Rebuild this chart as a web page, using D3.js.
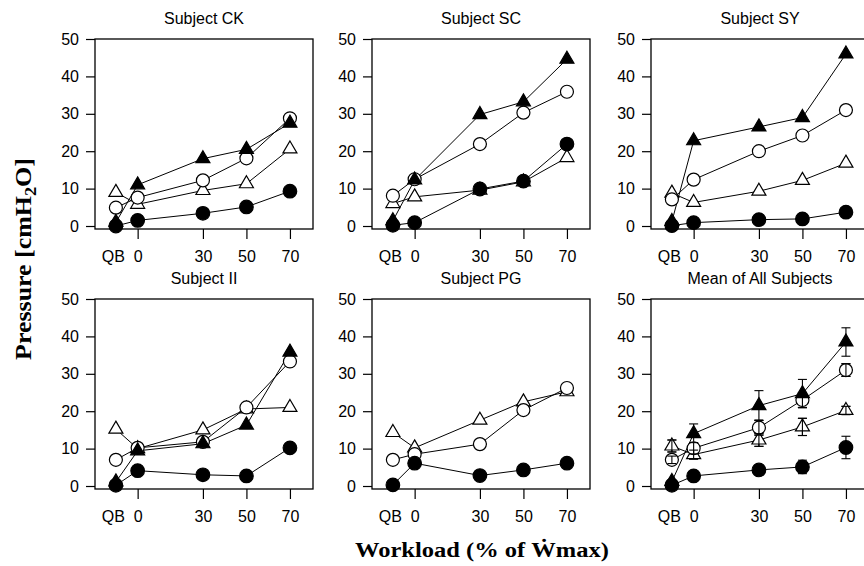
<!DOCTYPE html>
<html>
<head>
<meta charset="utf-8">
<script src="https://cdn.jsdelivr.net/npm/d3@7"></script>
<style>
  body { margin: 0; background: #fff; }
  svg text { fill: #000; }
</style>
</head>
<body>
<svg id="chart" width="864" height="566"></svg>
<script>
// workload categories (QB = quiet breathing, placed left of 0)
const workloadLabels = ["QB", "0", "30", "50", "70"];
const workloadX = [-10, 0, 30, 50, 70];
const yTicks = [0, 10, 20, 30, 40, 50];

const panelTitles = ["Subject CK", "Subject SC", "Subject SY", "Subject II", "Subject PG", "Mean of All Subjects"];

// Subject CK
const ckFilledTri  = [1.0, 11.0, 18.0, 20.5, 27.5];
const ckOpenCirc   = [4.9, 7.6, 12.2, 18.1, 28.8];
const ckOpenTri    = [9.0, 5.8, 9.5, 11.3, 20.6];
const ckFilledCirc = [0.0, 1.5, 3.4, 5.1, 9.3];

// Subject SC
const scFilledTri  = [1.4, 12.3, 29.8, 33.2, 44.6];
const scOpenCirc   = [8.1, 12.5, 21.9, 30.3, 35.9];
const scOpenTri    = [6.0, 7.8, 9.6, 11.8, 18.3];
const scFilledCirc = [0.2, 0.9, 9.9, 12.0, 21.9];

// Subject SY
const syFilledTri  = [1.2, 22.8, 26.5, 29.0, 46.0];
const syOpenCirc   = [7.1, 12.4, 20.0, 24.2, 31.0];
const syOpenTri    = [8.8, 6.3, 9.3, 12.2, 16.8];
const syFilledCirc = [0.1, 0.9, 1.7, 1.9, 3.7];

// Subject II
const iiFilledTri  = [1.1, 9.4, 11.3, 16.3, 35.8];
const iiOpenCirc   = [7.0, 10.2, 11.8, 21.0, 33.3];
const iiOpenTri    = [15.2, 10.0, 15.0, 20.6, 21.0];
const iiFilledCirc = [0.2, 4.1, 3.0, 2.7, 10.2];

// Subject PG (no filled-triangle series)
const pgOpenCirc   = [7.0, 8.5, 11.2, 20.3, 26.2];
const pgOpenTri    = [14.3, 10.2, 17.6, 22.5, 25.2];
const pgFilledCirc = [0.3, 6.1, 2.8, 4.3, 6.1];

// Mean of all subjects, with error bars
const meanFilledTri     = [1.2, 14.0, 21.5, 24.7, 38.5];
const meanFilledTriErr  = [0.4, 2.6, 4.0, 3.8, 3.8];
const meanOpenCirc      = [7.0, 10.1, 15.6, 23.0, 31.0];
const meanOpenCircErr   = [1.0, 1.5, 2.0, 2.0, 1.7];
const meanOpenTri       = [10.7, 8.4, 12.3, 15.8, 20.2];
const meanOpenTriErr    = [1.6, 1.2, 1.7, 2.3, 1.1];
const meanFilledCirc    = [0.2, 2.7, 4.3, 5.1, 10.3];
const meanFilledCircErr = [0.3, 0.5, 1.3, 1.8, 3.0];

const panelData = [
  [ckOpenTri, ckOpenCirc, ckFilledCirc, ckFilledTri],
  [scOpenTri, scOpenCirc, scFilledCirc, scFilledTri],
  [syOpenTri, syOpenCirc, syFilledCirc, syFilledTri],
  [iiOpenTri, iiOpenCirc, iiFilledCirc, iiFilledTri],
  [pgOpenTri, pgOpenCirc, pgFilledCirc, null],
  [meanOpenTri, meanOpenCirc, meanFilledCirc, meanFilledTri]
];
const meanErrors = [meanOpenTriErr, meanOpenCircErr, meanFilledCircErr, meanFilledTriErr];
const seriesKinds = ["openTri", "openCirc", "filledCirc", "filledTri"];

// layout
const panelW = 218, panelH = 190;
const colLeft = [95, 372, 651];
const rowTop = [39, 299];

const svg = d3.select("#chart");

const x = d3.scaleLinear().domain([-19.6, 80.6]).range([0, panelW]);
const y = d3.scaleLinear().domain([-0.8, 50]).range([panelH, 0]);

const line = d3.line()
  .x(d => x(d.x))
  .y(d => y(d.v));

function triPath(w, h) {
  return `M0,${-h * 2 / 3}L${w / 2},${h / 3}L${-w / 2},${h / 3}Z`;
}

function drawMarker(g, kind, px, py) {
  if (kind === "openCirc" || kind === "filledCirc") {
    g.append("circle")
      .attr("cx", px).attr("cy", py)
      .attr("r", kind === "filledCirc" ? 6.8 : 6.5)
      .attr("fill", kind === "filledCirc" ? "#000" : "#fff")
      .attr("stroke", "#000").attr("stroke-width", 1.2);
  } else {
    g.append("path")
      .attr("d", triPath(14, 12))
      .attr("transform", `translate(${px},${py})`)
      .attr("fill", kind === "filledTri" ? "#000" : "#fff")
      .attr("stroke", "#000").attr("stroke-width", 1.2)
      .attr("stroke-linejoin", "miter");
  }
}

panelData.forEach((series, i) => {
  const left = colLeft[i % 3], top = rowTop[Math.floor(i / 3)];
  const g = svg.append("g").attr("transform", `translate(${left},${top})`);

  // title
  g.append("text")
    .attr("x", panelW / 2).attr("y", -15)
    .attr("text-anchor", "middle")
    .style("font-family", "Liberation Sans, Arial, sans-serif")
    .style("font-size", "16px")
    .text(panelTitles[i]);

  // y axis
  const yAxis = g.append("g")
    .call(d3.axisLeft(y).tickValues(yTicks).tickSize(9).tickPadding(7).tickFormat(d3.format("d")));
  yAxis.select(".domain").remove();
  yAxis.selectAll("line").attr("stroke-width", 1.2);
  yAxis.selectAll("text")
    .style("font-family", "Liberation Sans, Arial, sans-serif")
    .style("font-size", "16px").attr("fill", "#000");

  // x axis
  const xAxis = g.append("g")
    .attr("transform", `translate(0,${panelH})`)
    .call(d3.axisBottom(x).tickValues(workloadX).tickSize(10).tickPadding(12)
      .tickFormat((d, k) => workloadLabels[k]));
  xAxis.select(".domain").remove();
  xAxis.selectAll("line").attr("stroke-width", 1.2)
    .filter(d => d === -10).remove();
  xAxis.selectAll("text")
    .style("font-family", "Liberation Sans, Arial, sans-serif")
    .style("font-size", "16px").attr("fill", "#000")
    .filter(d => d === -10).attr("dx", -3);

  // frame
  g.append("rect")
    .attr("width", panelW).attr("height", panelH)
    .attr("fill", "none").attr("stroke", "#000").attr("stroke-width", 1.3);

  // connecting lines
  series.forEach(vals => {
    if (!vals) return;
    const pts = vals.map((v, k) => ({ x: workloadX[k], v }));
    g.append("path")
      .attr("d", line(pts))
      .attr("fill", "none").attr("stroke", "#000").attr("stroke-width", 1);
  });

  // error bars for the mean panel
  if (i === 5) {
    series.forEach((vals, s) => {
      vals.forEach((v, k) => {
        const e = meanErrors[s][k];
        const px = x(workloadX[k]);
        const eb = g.append("g").attr("stroke", "#000").attr("stroke-width", 1.1);
        eb.append("line").attr("x1", px).attr("x2", px).attr("y1", y(v - e)).attr("y2", y(v + e));
        [v - e, v + e].forEach(c => {
          eb.append("line").attr("x1", px - 4.5).attr("x2", px + 4.5).attr("y1", y(c)).attr("y2", y(c));
        });
      });
    });
  }

  // markers
  series.forEach((vals, s) => {
    if (!vals) return;
    vals.forEach((v, k) => drawMarker(g, seriesKinds[s], x(workloadX[k]), y(v)));
  });

  // redraw error bars over open markers (they show through in the reference)
  if (i === 5) {
    series.forEach((vals, s) => {
      if (seriesKinds[s].startsWith("filled")) return;
      vals.forEach((v, k) => {
        const e = meanErrors[s][k];
        const px = x(workloadX[k]);
        const eb = g.append("g").attr("stroke", "#000").attr("stroke-width", 1.1);
        eb.append("line").attr("x1", px).attr("x2", px).attr("y1", y(v - e)).attr("y2", y(v + e));
        [v - e, v + e].forEach(c => {
          eb.append("line").attr("x1", px - 4.5).attr("x2", px + 4.5).attr("y1", y(c)).attr("y2", y(c));
        });
      });
    });
  }
});

// shared axis titles
function fitWidth(sel, target) {
  const w = sel.node().getComputedTextLength();
  return target / w;
}

const yTitle = svg.append("text")
  .attr("text-anchor", "middle")
  .style("font-family", "Liberation Serif, Times New Roman, serif")
  .style("font-weight", "bold")
  .style("font-size", "24px");
yTitle.append("tspan").text("Pressure [cmH");
yTitle.append("tspan").attr("dy", 5).style("font-size", "17px").text("2");
yTitle.append("tspan").attr("dy", -5).text("O]");
const ys = fitWidth(yTitle, 202);
yTitle.attr("transform", `translate(31,259) rotate(-90) scale(${ys},1)`);

const xTitle = svg.append("text")
  .attr("text-anchor", "middle")
  .style("font-family", "Liberation Serif, Times New Roman, serif")
  .style("font-weight", "bold")
  .style("font-size", "22px")
  .text("Workload (% of \u1E86max)");
const xs = fitWidth(xTitle, 254);
xTitle.attr("transform", `translate(482,557) scale(${xs},1)`);
</script>
</body>
</html>
